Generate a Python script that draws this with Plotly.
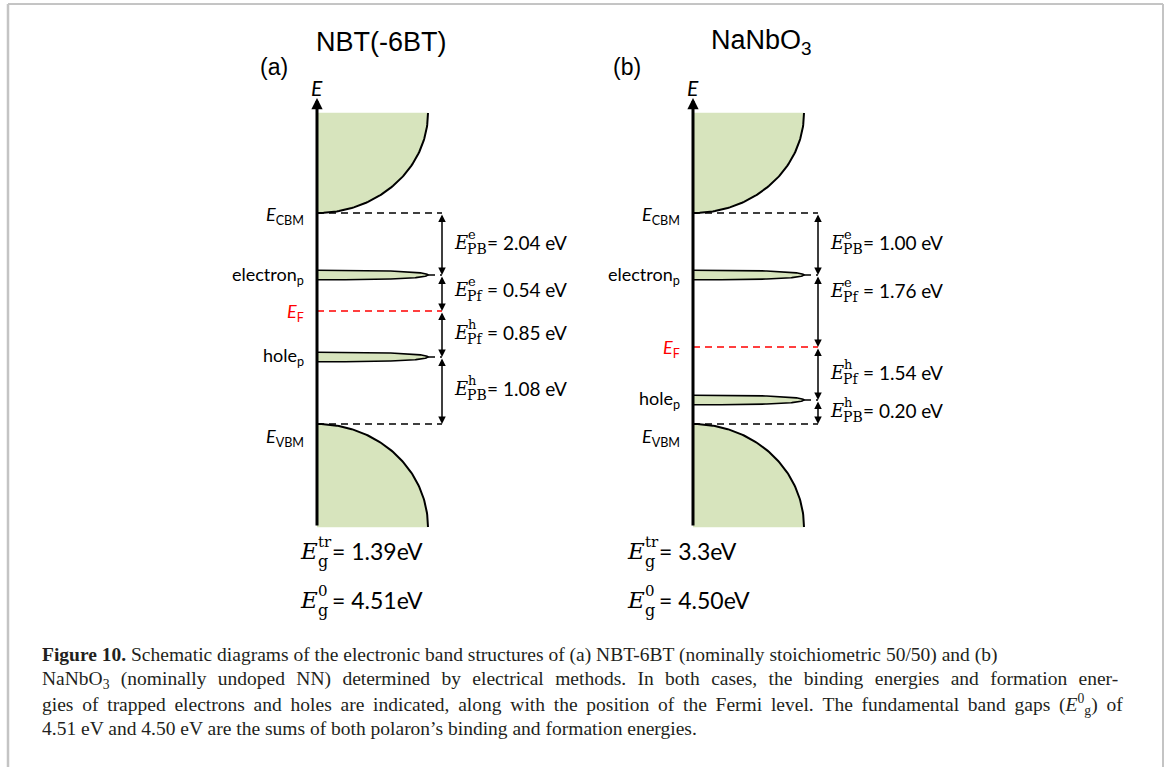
import numpy as np
import plotly.graph_objects as go

# ---------------- data ----------------
panel_tags = ["(a)", "(b)"]
materials = ["NBT(-6BT)", "NaNbO<sub>3</sub>"]
E_PB_e = [2.04, 1.00]   # electron polaron binding energy (eV)
E_Pf_e = [0.54, 1.76]   # electron polaron formation energy (eV)
E_Pf_h = [0.85, 1.54]   # hole polaron formation energy (eV)
E_PB_h = [1.08, 0.20]   # hole polaron binding energy (eV)
E_g_tr = ["1.39", "3.3"]
E_g_0 = ["4.51", "4.50"]
value_sup = ["e", "e", "h", "h"]
value_sub = ["PB", "Pf", "Pf", "PB"]

caption_lines = [
    "<b>Figure 10.</b> Schematic diagrams of the electronic band structures of (a) NBT-6BT (nominally stoichiometric 50/50) and (b)",
    "NaNbO<sub>3</sub> (nominally undoped NN) determined by electrical methods. In both cases, the binding energies and formation ener-",
    "gies of trapped electrons and holes are indicated, along with the position of the Fermi level. The fundamental band gaps (<i>E</i><sup>0</sup><sub>g</sub>) of",
    "4.51 eV and 4.50 eV are the sums of both polaron\u2019s binding and formation energies.",
]
# extra word spacing to mimic the justified caption lines
caption_extra_space = ["", "\u2004", "\u2009", ""]

# ---------------- schematic geometry (layout, pixel-like units) ----------------
W, H = 1170, 767
axis_x = [317, 693]
band_w = 111
arrow_dx = 125
y_band_top, y_cbm, y_vbm, y_band_bot, y_axis_tip = 113, 213, 424, 527, 98
level_y = [[275, 311, 357], [275, 347, 400]]       # electron_p, E_F, hole_p
value_label_y = [[242, 289, 332, 388], [242, 290, 372, 410]]
title_x = [381, 761]
tag_x = [274, 627]
eq_x = [298, 625]

GREEN = "#d7e4bd"
SANS = "Lato"
SERIF_M = "DejaVu Serif"

fig = go.Figure()
ann = []
shapes = []


def add_line(x, y, color="black", width=2, dash=None):
    fig.add_trace(go.Scatter(x=x, y=y, mode="lines", hoverinfo="skip",
                             line=dict(color=color, width=width, dash=dash)))


def add_fill(x, y, line_w=0):
    fig.add_trace(go.Scatter(x=x, y=y, mode="lines", fill="toself", fillcolor=GREEN,
                             hoverinfo="skip",
                             line=dict(color="black" if line_w else GREEN, width=line_w if line_w else 0.5)))


t = np.linspace(0, np.pi / 2, 80)
for p in range(2):
    ax = axis_x[p]
    ye, yf, yh = level_y[p]
    xr = ax + arrow_dx

    # conduction band
    cx = ax + band_w * np.cos(t)
    cy = y_band_top + (y_cbm - y_band_top) * np.sin(t)
    add_fill([ax] + list(cx), [y_band_top] + list(cy))
    # valence band
    vx = ax + band_w * np.cos(t)
    vy = y_band_bot - (y_band_bot - y_vbm) * np.sin(t)
    add_fill([ax] + list(vx), [y_band_bot] + list(vy))

    # dashed level lines
    add_line([ax, xr], [y_cbm, y_cbm], width=1.6, dash="7px,5px")
    add_line([ax, xr], [y_vbm, y_vbm], width=1.6, dash="7px,5px")
    add_line([ax, xr], [yf, yf], color="#ff0000", width=1.6, dash="7px,5px")
    add_line([ax + band_w, xr], [ye, ye], width=1.6, dash="7px,5px")
    add_line([ax + band_w, xr], [yh, yh], width=1.6, dash="7px,5px")

    # band outlines
    add_line(cx, cy, width=2)
    add_line(vx, vy, width=2)

    # polaron levels (thin lenses)
    u = np.linspace(0, 1, 120)
    half = 4.8 * np.sqrt(np.clip(1 - u ** 3, 0, None))
    for yc in (ye, yh):
        lx = list(ax + band_w * u) + list(ax + band_w * u[::-1])
        ly = list(yc - half) + list(yc + half[::-1])
        add_fill(lx, ly, line_w=1.6)

    # energy axis arrow
    ann.append(dict(x=ax, y=y_axis_tip, ax=ax, ay=y_band_bot, xref="x", yref="y",
                    axref="x", ayref="y", text="", showarrow=True, arrowhead=2,
                    arrowsize=0.75, arrowwidth=3, arrowcolor="black", standoff=0))
    ann.append(dict(x=ax, y=87, text="<i>E</i>", showarrow=False, xanchor="center",
                    yanchor="middle", font=dict(family=SANS, size=21, color="black")))

    # double arrows
    stops = [y_cbm, ye, yf, yh, y_vbm]
    for k in range(4):
        ann.append(dict(x=xr, y=stops[k + 1], ax=xr, ay=stops[k], xref="x", yref="y",
                        axref="x", ayref="y", text="", showarrow=True, arrowhead=2,
                        arrowside="end+start", arrowsize=1, arrowwidth=1.5,
                        arrowcolor="black", standoff=0, startstandoff=0))

    # value labels
    vals = [E_PB_e[p], E_Pf_e[p], E_Pf_h[p], E_PB_h[p]]
    ex = xr + 10
    for k in range(4):
        yy = value_label_y[p][k]
        ann.append(dict(x=ex, y=yy, text="<i>E</i>", showarrow=False, xanchor="left",
                        yanchor="middle", font=dict(family=SERIF_M, size=18, color="black")))
        ann.append(dict(x=ex + 14, y=yy - 8, text=value_sup[k], showarrow=False,
                        xanchor="left", yanchor="middle",
                        font=dict(family=SERIF_M, size=13, color="black")))
        ann.append(dict(x=ex + 13, y=yy + 7, text=value_sub[k], showarrow=False,
                        xanchor="left", yanchor="middle",
                        font=dict(family=SERIF_M, size=14, color="black")))
        ann.append(dict(x=ex + 33, y=yy, text=f"= {vals[k]:.2f} eV", showarrow=False,
                        xanchor="left", yanchor="middle",
                        font=dict(family=SANS, size=19, color="black")))

    # left labels
    lx_r = ax - 11
    left_labels = [
        ("<i>E</i><sub>CBM</sub>", y_cbm + 2, "black"),
        ("electron<sub>p</sub>", ye, "black"),
        ("<i>E</i><sub>F</sub>", yf + 1, "#ff0000"),
        ("hole<sub>p</sub>", yh - 1, "black"),
        ("<i>E</i><sub>VBM</sub>", 437, "black"),
    ]
    for txt, yy, col in left_labels:
        ann.append(dict(x=lx_r, y=yy, text=txt, showarrow=False, xanchor="right",
                        yanchor="middle", font=dict(family=SANS, size=18, color=col)))

    # titles
    ann.append(dict(x=title_x[p], y=42, text=materials[p], showarrow=False,
                    xanchor="center", yanchor="middle",
                    font=dict(family="Liberation Sans", size=27, color="black")))
    ann.append(dict(x=tag_x[p], y=67, text=panel_tags[p], showarrow=False,
                    xanchor="center", yanchor="middle",
                    font=dict(family="Liberation Sans", size=23, color="black")))

    # band gap equations
    for yy, sup, val in ((551, "tr", E_g_tr[p]), (600, "0", E_g_0[p])):
        ann.append(dict(x=eq_x[p], y=yy, text="<i>E</i>", showarrow=False, xanchor="left",
                        yanchor="middle", font=dict(family=SERIF_M, size=23, color="black")))
        ann.append(dict(x=eq_x[p] + 18, y=yy - 9, text=sup, showarrow=False, xanchor="left",
                        yanchor="middle", font=dict(family=SERIF_M, size=15, color="black")))
        ann.append(dict(x=eq_x[p] + 18, y=yy + 10, text="g", showarrow=False, xanchor="left",
                        yanchor="middle", font=dict(family=SERIF_M, size=16, color="black")))
        ann.append(dict(x=eq_x[p] + 32, y=yy, text=f"= {val}eV", showarrow=False,
                        xanchor="left", yanchor="middle",
                        font=dict(family=SANS, size=23, color="black")))

# caption
cap_y = [655, 680, 704, 728]
for txt, extra, yy in zip(caption_lines, caption_extra_space, cap_y):
    if extra:
        txt = txt.replace(" ", " " + extra)
        txt = txt.replace("<sub>" + " " + extra, "<sub> ")
    ann.append(dict(x=40, y=yy, text=txt, showarrow=False, xanchor="left", yanchor="middle",
                    font=dict(family="Liberation Serif", size=19.5, color="#231f20")))

# frame
shapes.append(dict(type="line", x0=8, x1=1163, y0=4, y1=4, xref="x", yref="y",
                   line=dict(color="#8a8a8a", width=1)))
shapes.append(dict(type="line", x0=8, x1=8, y0=4, y1=H, xref="x", yref="y",
                   line=dict(color="#c4c4c4", width=2.5)))
shapes.append(dict(type="line", x0=1163, x1=1163, y0=4, y1=H, xref="x", yref="y",
                   line=dict(color="#c4c4c4", width=2)))

fig.update_layout(
    width=W, height=H, margin=dict(l=0, r=0, t=0, b=0),
    paper_bgcolor="white", plot_bgcolor="white", showlegend=False,
    xaxis=dict(range=[0, W], visible=False, fixedrange=True),
    yaxis=dict(range=[H, 0], visible=False, fixedrange=True),
    annotations=ann, shapes=shapes,
)

fig.write_html("out.html")
